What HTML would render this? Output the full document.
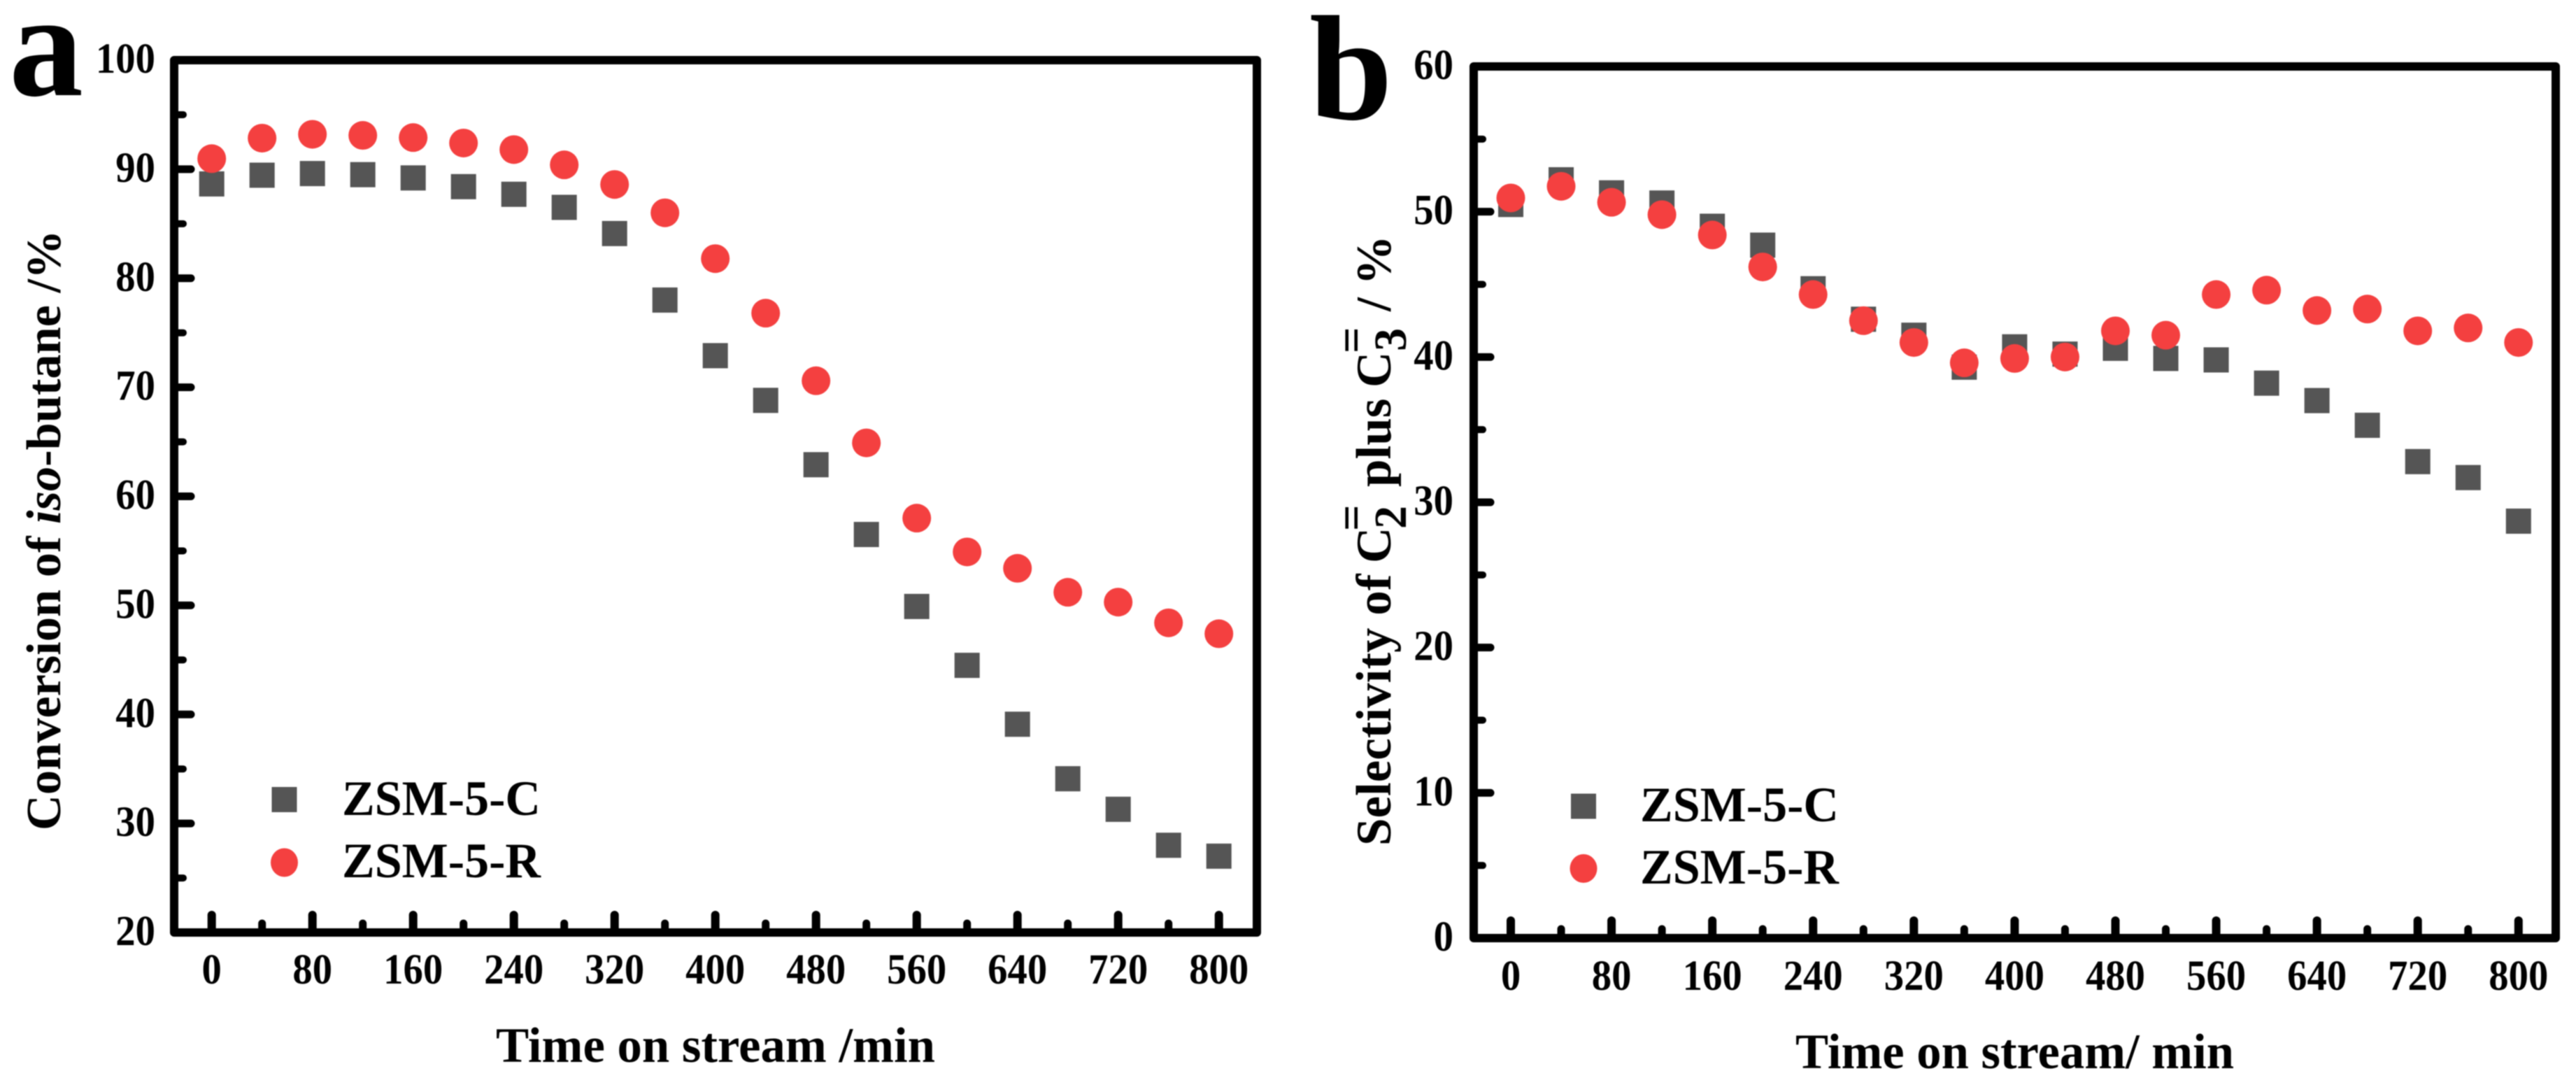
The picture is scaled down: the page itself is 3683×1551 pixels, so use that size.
<!DOCTYPE html>
<html lang="en">
<head>
<meta charset="utf-8">
<title>Conversion and selectivity over time on stream</title>
<style>
html,body{margin:0;padding:0;background:#fff;width:3683px;height:1551px;overflow:hidden}
svg{display:block;filter:blur(0.7px)}
text{font-family:"Liberation Serif",serif;font-weight:bold;fill:#000}
</style>
</head>
<body>
<svg id="figure" xmlns="http://www.w3.org/2000/svg" width="3683" height="1551" viewBox="0 0 3683 1551">
  <rect x="0" y="0" width="3683" height="1551" fill="#fff"/>

  <text x="13" y="136" font-size="212">a</text>
  <text x="1872" y="170" font-size="214">b</text>

  <text transform="translate(86,1187) rotate(-90)" x="0" y="0" font-size="70.4">Conversion of <tspan font-style="italic">iso</tspan>-butane /%</text>
  <text x="709" y="1518" font-size="71" textLength="628" lengthAdjust="spacingAndGlyphs">Time on stream /min</text>

  <g transform="translate(1988,1209) rotate(-90)">
    <text x="0" y="0" font-size="71">Selectivity of</text>
    <text x="404" y="0" font-size="71">C</text>
    <text x="453" y="22" font-size="66">2</text>
    <text x="450" y="-34" font-size="66">=</text>
    <text x="513" y="0" font-size="71">plus</text>
    <text x="655" y="0" font-size="71">C</text>
    <text x="707" y="22" font-size="66">3</text>
    <text x="704" y="-34" font-size="66">=</text>
    <text x="764" y="0" font-size="71">/ %</text>
  </g>
  <text x="2567" y="1527" font-size="71" textLength="627" lengthAdjust="spacingAndGlyphs">Time on stream/ min</text>

  <g id="panel-a"></g>
  <g id="panel-b"></g>
</svg>

<script>
var timeValues = [0,40,80,120,160,200,240,280,320,360,400,440,480,520,560,600,640,680,720,760,800];
var conversionC = [88.65,89.45,89.6,89.5,89.2,88.4,87.7,86.5,84.1,78,72.9,68.8,62.9,56.5,49.9,44.5,39.1,34.1,31.3,28,27];
var conversionR = [90.97,92.85,93.2,93.1,92.9,92.4,91.8,90.4,88.6,86,81.8,76.8,70.6,64.9,58,54.9,53.4,51.2,50.3,48.4,47.4];
var selectivityC = [50.5,52.2,51.3,50.6,49,47.7,44.7,42.6,41.5,39.3,40.7,40.2,40.6,39.9,39.8,38.2,37,35.3,32.8,31.7,28.7];
var selectivityR = [50.95,51.75,50.65,49.8,48.4,46.2,44.3,42.5,41,39.6,39.9,40,41.8,41.5,44.3,44.6,43.2,43.3,41.8,42,41];
var xMajorTicks = [0,80,160,240,320,400,480,560,640,720,800];
var xMinorTicks = [40,120,200,280,360,440,520,600,680,760];
var yMajorTicksA = [20,30,40,50,60,70,80,90,100];
var yMinorTicksA = [25,35,45,55,65,75,85,95];
var yMajorTicksB = [0,10,20,30,40,50,60];
var yMinorTicksB = [5,15,25,35,45,55];
var seriesNames = ['ZSM-5-C','ZSM-5-R'];

var SVGNS = 'http://www.w3.org/2000/svg';
var SQUARE = 36, RADIUS = 20.5;

function make(parent, tag, attrs) {
  var el = document.createElementNS(SVGNS, tag);
  for (var k in attrs) el.setAttribute(k, attrs[k]);
  parent.appendChild(el);
  return el;
}

function drawPanel(cfg) {
  var root = document.getElementById(cfg.id);
  var xs = function (v) { return cfg.x0 + (v - 0) * cfg.xPerUnit; };
  var ys = function (v) { return cfg.bottom - (v - cfg.yMin) * (cfg.bottom - cfg.top) / (cfg.yMax - cfg.yMin); };

  cfg.yMajor.forEach(function (v) {
    var t = make(root, 'line', {x1: cfg.left, x2: cfg.left + 24, y1: ys(v), y2: ys(v), stroke: '#000', 'stroke-width': 11, 'stroke-linecap': 'round'});
    
    
    var l = make(root, 'text', {'text-anchor': 'end', 'font-size': 61, transform: 'translate(' + cfg.yLabelX + ',' + (ys(v) + 18) + ') scale(0.93,1)'});
    l.textContent = String(v);
    
    
  });
  cfg.yMinor.forEach(function (v) {
    var t = make(root, 'line', {x1: cfg.left, x2: cfg.left + 13, y1: ys(v), y2: ys(v), stroke: '#000', 'stroke-width': 10, 'stroke-linecap': 'round'});
    
    
  });
  xMajorTicks.forEach(function (v) {
    var t = make(root, 'line', {x1: xs(v), x2: xs(v), y1: cfg.bottom, y2: cfg.bottom - 25, stroke: '#000', 'stroke-width': 12, 'stroke-linecap': 'round'});
    
    
    var l = make(root, 'text', {'text-anchor': 'middle', 'font-size': 61, transform: 'translate(' + xs(v) + ',' + cfg.xLabelY + ') scale(0.93,1)'});
    l.textContent = String(v);
    
    
  });
  xMinorTicks.forEach(function (v) {
    var t = make(root, 'line', {x1: xs(v), x2: xs(v), y1: cfg.bottom, y2: cfg.bottom - 13, stroke: '#000', 'stroke-width': 11, 'stroke-linecap': 'round'});
    
    
  });

  var frame = make(root, 'rect', {x: cfg.left, y: cfg.top, width: cfg.right - cfg.left, height: cfg.bottom - cfg.top, fill: 'none', stroke: '#000', 'stroke-width': 12, 'stroke-linejoin': 'round'});
  
  

  timeValues.forEach(function (t, i) {
    var s = make(root, 'rect', {x: xs(t) - SQUARE / 2, y: ys(cfg.seriesC[i]) - SQUARE / 2, width: SQUARE, height: SQUARE, fill: '#555555'});
    
    
  });
  timeValues.forEach(function (t, i) {
    var c = make(root, 'circle', {cx: xs(t), cy: ys(cfg.seriesR[i]), r: RADIUS, fill: '#f44040'});
    
    
  });

  var ls = make(root, 'rect', {x: cfg.legendX - SQUARE / 2, y: cfg.legendY1 - SQUARE / 2, width: SQUARE, height: SQUARE, fill: '#555555'});
  
  
  var lc = make(root, 'ellipse', {cx: cfg.legendX, cy: cfg.legendY2, rx: 19.5, ry: 20.5, fill: '#f44040'});
  
  
  var t1 = make(root, 'text', {x: cfg.legendTextX, y: cfg.legendText1, 'font-size': 71, textLength: 284, lengthAdjust: 'spacingAndGlyphs'});
  t1.textContent = seriesNames[0];
  
  
  var t2 = make(root, 'text', {x: cfg.legendTextX, y: cfg.legendText2, 'font-size': 71, textLength: 284, lengthAdjust: 'spacingAndGlyphs'});
  t2.textContent = seriesNames[1];
  
  
}

drawPanel({
  id: 'panel-a', left: 249, right: 1797, top: 86, bottom: 1333,
  x0: 302.7, xPerUnit: 1.8, yMin: 20, yMax: 100,
  yMajor: yMajorTicksA, yMinor: yMinorTicksA,
  seriesC: conversionC, seriesR: conversionR,
  yLabelX: 222, xLabelY: 1406,
  legendX: 406.5, legendY1: 1143, legendY2: 1233,
  legendTextX: 489, legendText1: 1165, legendText2: 1254
});
drawPanel({
  id: 'panel-b', left: 2107, right: 3654, top: 95, bottom: 1341,
  x0: 2160, xPerUnit: 1.801, yMin: 0, yMax: 60,
  yMajor: yMajorTicksB, yMinor: yMinorTicksB,
  seriesC: selectivityC, seriesR: selectivityR,
  yLabelX: 2078, xLabelY: 1415,
  legendX: 2264, legendY1: 1152.5, legendY2: 1241.5,
  legendTextX: 2345, legendText1: 1174, legendText2: 1263
});
</script>
</body>
</html>
